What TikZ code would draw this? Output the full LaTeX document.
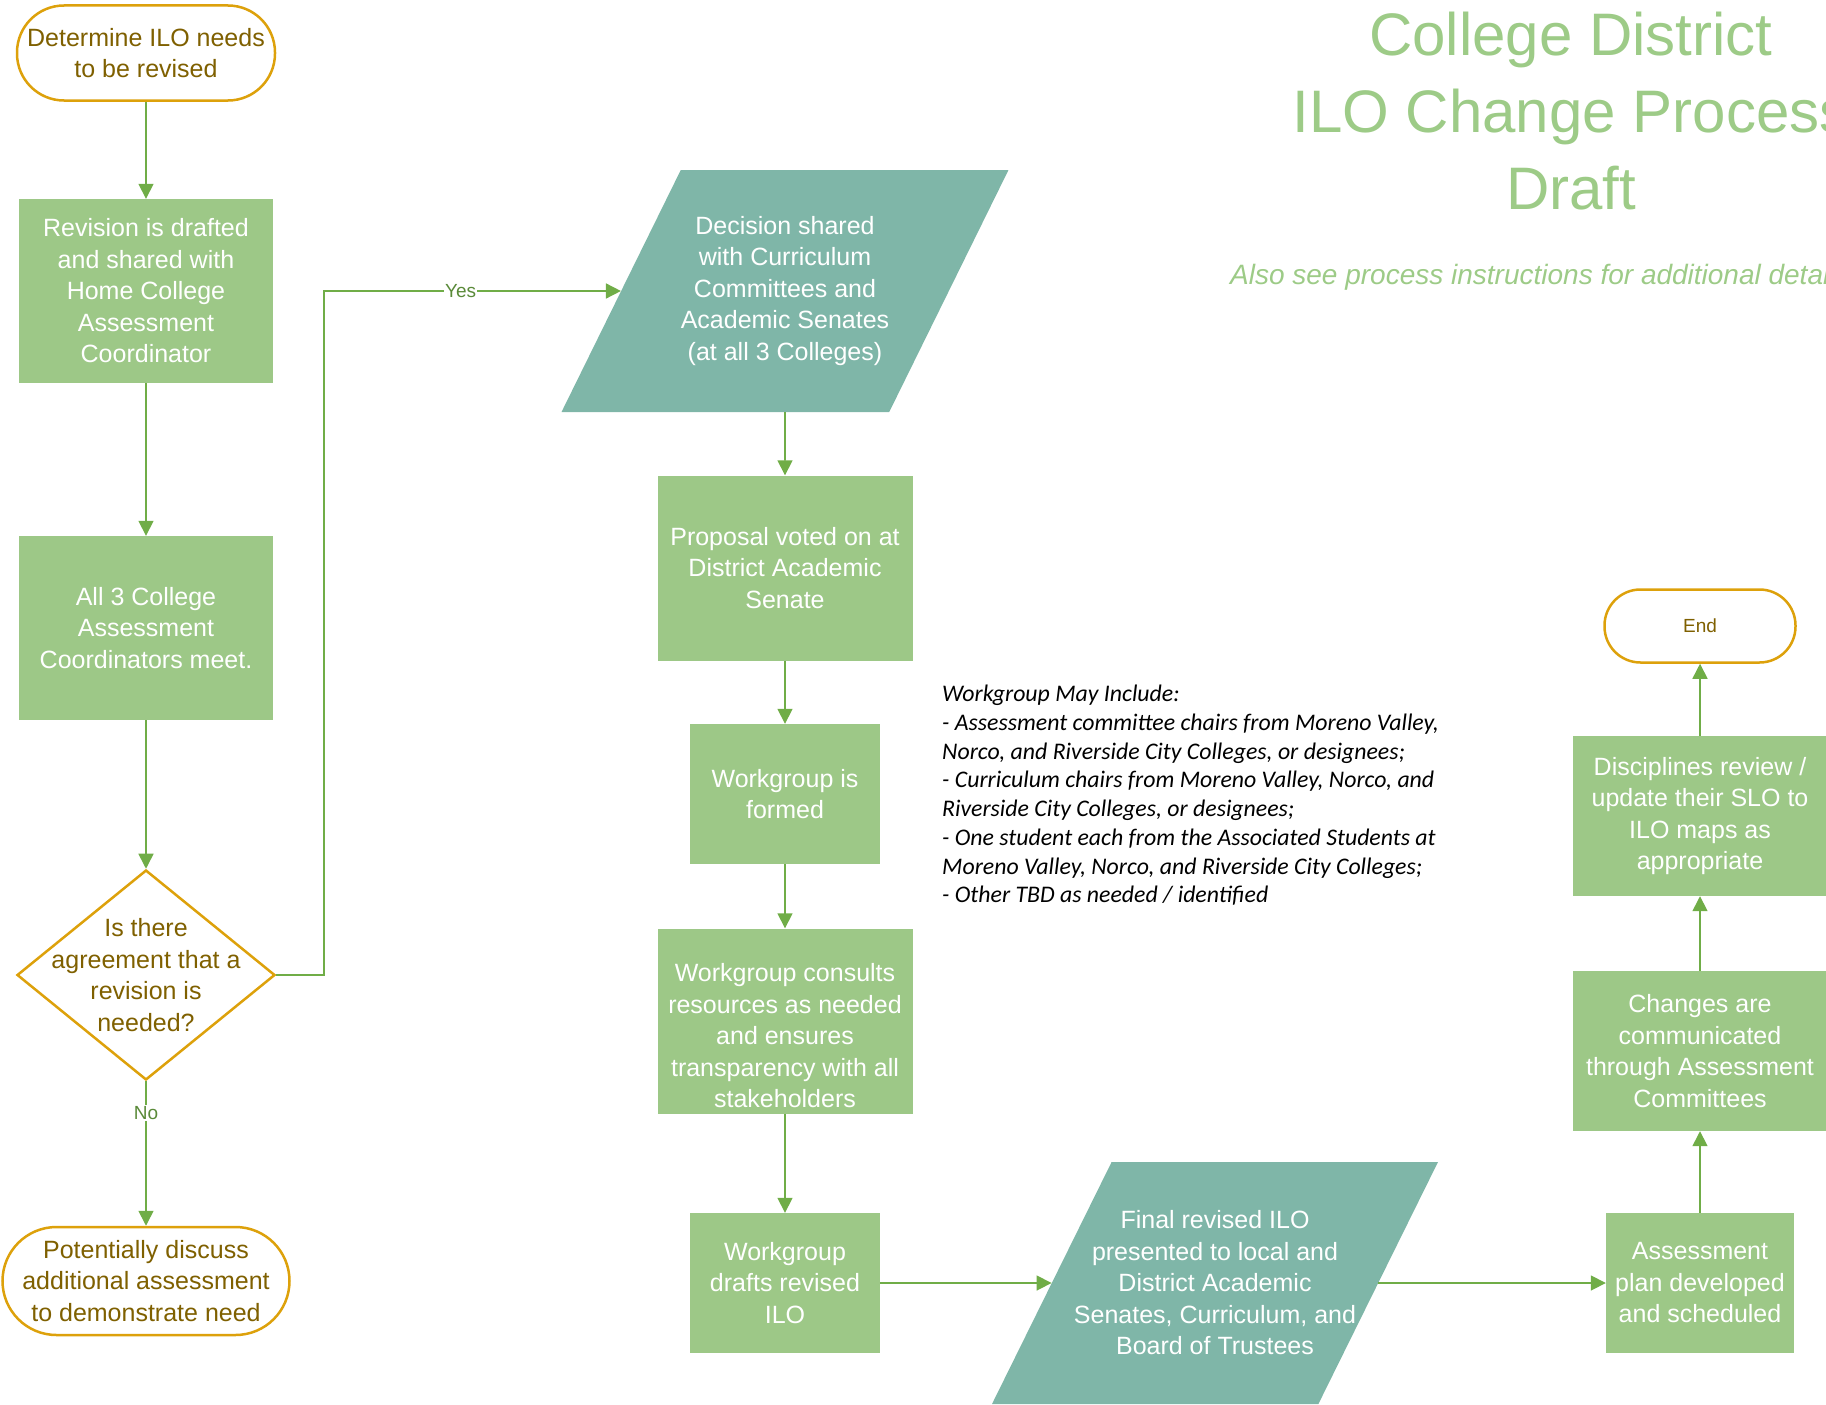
\documentclass[tikz,border=0pt]{standalone}
\usepackage{fontspec}
\setmainfont{Liberation Sans}
\newfontfamily\notefont{Carlito}
\usetikzlibrary{shapes.geometric,arrows.meta}
\definecolor{boxgreen}{HTML}{9DC887}
\definecolor{iogreen}{HTML}{7FB6A8}
\definecolor{linegreen}{HTML}{70AD47}
\definecolor{termgold}{HTML}{DDA10B}
\definecolor{termtext}{HTML}{7F6000}
\definecolor{titlegreen}{HTML}{9DCB87}
\begin{document}
\begin{tikzpicture}[x=1pt,y=-1pt,
  procbox/.style={rectangle,fill=boxgreen,text=white,minimum width=254pt,minimum height=184pt},
  smallbox/.style={procbox,minimum width=190pt,minimum height=140pt},
  iobox/.style={trapezium,trapezium left angle=63.7,trapezium right angle=116.3,trapezium stretches body,
    inner ysep=46pt,fill=iogreen,text=white,minimum width=446pt,minimum height=242pt},
  terminal/.style={rectangle,rounded corners=47pt,draw=termgold,line width=2.5pt,fill=white,text=termtext,
    minimum width=258pt,minimum height=95pt},
  decision/.style={diamond,draw=termgold,line width=2.5pt,minimum width=258pt,minimum height=210pt},
  flow/.style={draw=linegreen,line width=1.6pt,-{Triangle[length=15pt,width=15pt]}},
  edgelabel/.style={fill=white,text=linegreen!80!black,font=\fontsize{19}{19}\selectfont,inner sep=1pt}]
\tikzstyle{every node}+=[inner sep=0pt,align=center,font=\fontsize{25}{31.5}\selectfont]
\useasboundingbox (0,0) rectangle (1826,1405);
\node [terminal] (start) at (146,53) {Determine ILO needs\\to be revised};
\node [procbox] (drafted) at (146,291) {Revision is drafted\\and shared with\\Home College\\Assessment\\Coordinator};
\node [procbox] (meet) at (146,628) {All 3 College\\Assessment\\Coordinators meet.};
\node [decision,label={[text=termtext]center:Is there\\agreement that a\\revision is\\needed?}] (agree) at (146,975) {};
\node [terminal,rounded corners=54pt,minimum width=287pt,minimum height=108pt] (discuss) at (146,1281)
  {Potentially discuss\\additional assessment\\to demonstrate need};
\node [iobox] (shared) at (785,291) {Decision shared\\with Curriculum\\Committees and\\Academic Senates\\(at all 3 Colleges)};
\node [procbox,minimum width=255pt,minimum height=185pt] (voted) at (785,568) {Proposal voted on at\\District Academic\\Senate};
\node [smallbox] (formed) at (785,794) {Workgroup is\\formed};
\node [procbox,minimum width=255pt,minimum height=185pt,
  label={[text=white,yshift=-15pt]center:Workgroup consults\\resources as needed\\and ensures\\transparency with all\\stakeholders}] (consults) at (785,1021) {};
\node [smallbox] (drafts) at (785,1283) {Workgroup\\drafts revised\\ILO};
\node [iobox,inner ysep=121pt,
  label={[text=white]center:Final revised ILO\\presented to local and\\District Academic\\Senates, Curriculum, and\\Board of Trustees}] (final) at (1215,1283) {};
\node [smallbox,minimum width=188pt] (plan) at (1700,1283) {Assessment\\plan developed\\and scheduled};
\node [procbox,minimum height=160pt] (changes) at (1700,1051) {Changes are\\communicated\\through Assessment\\Committees};
\node [procbox,minimum height=160pt] (review) at (1700,816) {Disciplines review /\\update their SLO to\\ILO maps as\\appropriate};
\node [terminal,rounded corners=36pt,minimum width=191pt,minimum height=73pt,font=\fontsize{19}{19}\selectfont] (end) at (1700,626) {End};
\node [anchor=north,text=titlegreen,font=\fontsize{60}{77}\selectfont] (title) at (1571,12) {College District\\ILO Change Process\\Draft};
\node [anchor=base west,text=titlegreen,font=\fontsize{28}{34}\selectfont\itshape] (seealso) at (1230,284)
  {Also see process instructions for additional details};
\node [anchor=north west,align=left,font=\notefont\itshape\fontsize{23.8}{28.75}\selectfont] (members) at (942,685)
  {Workgroup May Include:\\
   - Assessment committee chairs from Moreno Valley,\\
   Norco, and Riverside City Colleges, or designees;\\
   - Curriculum chairs from Moreno Valley, Norco, and\\
   Riverside City Colleges, or designees;\\
   - One student each from the Associated Students at\\
   Moreno Valley, Norco, and Riverside City Colleges;\\
   - Other TBD as needed / identified};
\draw [flow] (start) -- (drafted);
\draw [flow] (drafted) -- (meet);
\draw [flow] (meet) -- (agree);
\draw [flow] (agree) -- node [edgelabel,pos=0.22] {No} (discuss);
\draw [flow] (agree.east) -- ++(48,0) |- node [edgelabel,pos=0.73] {Yes} (shared.west);
\draw [flow] (shared) -- (voted);
\draw [flow] (voted) -- (formed);
\draw [flow] (formed) -- (consults);
\draw [flow] (consults) -- (drafts);
\draw [flow] (drafts) -- (final.west);
\draw [flow] (final.east) -- (plan);
\draw [flow] (plan) -- (changes);
\draw [flow] (changes) -- (review);
\draw [flow] (review) -- (end);
\end{tikzpicture}
\end{document}
